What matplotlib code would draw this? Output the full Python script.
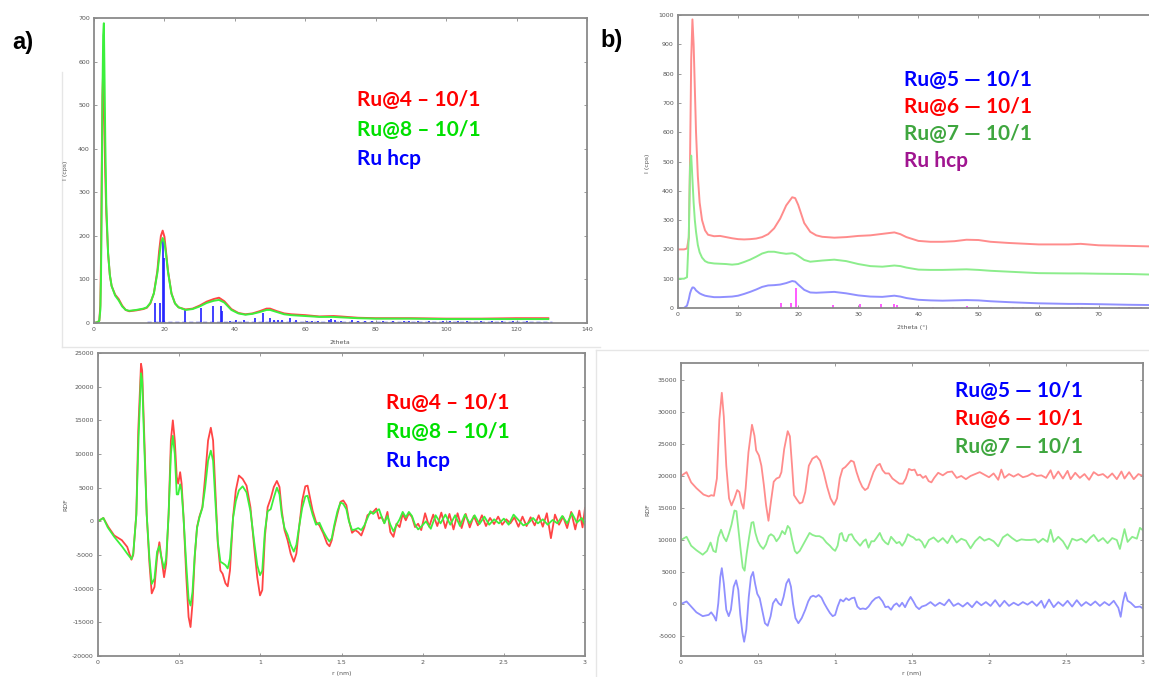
import numpy as np
import matplotlib

matplotlib.use("Agg")
import matplotlib.pyplot as plt
from matplotlib.lines import Line2D

plt.rcParams["axes.unicode_minus"] = False

W, H = 1149, 677

# ---------------------------------------------------------------------------
# data
# ---------------------------------------------------------------------------

# a) XRD, shared 2theta grid
xrd_a_x = [0, 1, 1.5, 1.8, 2.0, 2.2, 2.4, 2.6, 2.8, 3.0, 3.2, 3.5, 4.0, 4.5, 5, 6, 7, 8, 9, 10,
           12, 14, 15, 16, 17, 18, 18.5, 19, 19.5, 20, 20.5, 21, 22, 23, 24, 26, 28, 30, 32, 34,
           35.5, 37, 39, 41, 43, 45, 47, 49, 50, 52, 54, 56, 60, 64, 68, 70, 75, 80, 90, 100,
           110, 120, 129]
xrd_a_ru4 = [0, 2, 5, 40, 150, 350, 520, 578, 520, 420, 340, 250, 160, 110, 85, 65, 55, 40, 30, 27,
             29, 32, 35, 45, 68, 120, 165, 200, 212, 198, 160, 120, 68, 45, 36, 31, 33, 40, 49, 55,
             58, 50, 32, 23, 20, 22, 27, 33, 33, 27, 22, 20, 18, 15, 16, 15, 12, 11, 11, 10,
             10, 11, 11]
xrd_a_ru8 = [0, 2, 5, 30, 110, 300, 520, 660, 688, 560, 420, 270, 160, 110, 85, 63, 52, 38, 30, 28,
             30, 33, 36, 46, 68, 115, 150, 183, 195, 185, 155, 118, 67, 45, 36, 30, 32, 38, 46, 51,
             53, 47, 30, 22, 19, 21, 25, 30, 30, 25, 20, 18, 16, 14, 14, 13, 11, 10, 10, 9,
             9, 9, 9]

# Ru hcp reference reflections (2theta, intensity)
hcp_a_pos = [17.2, 18.8, 19.6, 19.9, 25.8, 30.3, 33.7, 36.0, 36.4, 38.5, 40.2, 42.5, 45.8, 48.1,
             49.9, 51.0, 52.2, 53.5, 55.8, 57.4, 60.5, 62.0, 63.5, 66.6, 67.3, 68.4, 70.0, 73.3,
             75.0, 77.0, 79.0, 82.0, 85.0, 88.0, 89.5, 92.0, 95.0, 99.0, 101.0, 103.5, 106.0,
             110.0, 113.0, 116.0, 119.0, 123.0, 127.0, 129.0]
hcp_a_int = [45, 45, 190, 150, 30, 35, 38, 38, 28, 5, 6, 6, 12, 22,
             12, 7, 8, 6, 12, 8, 4, 5, 4, 8, 10, 7, 5, 7,
             4, 4, 4, 5, 4, 4, 5, 4, 4, 4, 5, 4, 4,
             4, 4, 4, 4, 4, 3, 3]

# b) XRD, shared 2theta grid
xrd_b_x = [0, 1.0, 1.5, 1.8, 2.0, 2.2, 2.4, 2.6, 2.8, 3.0, 3.3, 3.6, 4.0, 4.5, 5, 6, 7, 8, 9, 10,
           11, 12, 13, 14, 15, 16, 17, 18, 19, 19.5, 20, 21, 22, 23, 24, 26, 28, 30, 32, 34,
           36, 37, 38, 40, 42, 44, 46, 48, 50, 52, 55, 60, 65, 67, 70, 75, 79]
xrd_b_ru6 = [200, 200, 203, 240, 500, 850, 985, 900, 750, 600, 450, 360, 300, 265, 250, 245, 246, 242, 238, 235,
             234, 235, 237, 242, 252, 272, 305, 350, 378, 375, 352, 290, 260, 248, 243, 240, 242, 246, 248, 253,
             258, 252, 242, 229, 226, 226, 228, 233, 232, 226, 222, 217, 217, 219, 214, 212, 210]
xrd_b_ru7 = [100, 100, 105, 250, 480, 520, 440, 360, 300, 260, 215, 190, 172, 160, 155, 152, 151, 150, 148, 150,
             157, 165, 175, 186, 192, 192, 188, 185, 187, 184, 178, 164, 158, 160, 162, 165, 160, 150, 143, 141,
             145, 143, 138, 131, 130, 130, 131, 132, 130, 127, 124, 119, 118, 118, 117, 116, 114]
xrd_b_ru5 = [0, 0, 8, 30, 50, 62, 70, 70, 66, 60, 55, 50, 46, 42, 40, 37, 37, 38, 39, 42,
             48, 55, 63, 72, 77, 78, 80, 85, 92, 90, 80, 62, 53, 52, 53, 55, 50, 43, 39, 38,
             42, 39, 34, 28, 26, 25, 26, 27, 26, 23, 20, 16, 14, 14, 13, 11, 10]

hcp_b_pos = [17.2, 18.8, 19.6, 25.8, 30.3, 33.7, 36.0, 36.4, 42.5, 45.8, 48.1, 49.9, 52.0,
             55.8, 57.4, 66.6, 67.3, 73.3, 75.0, 77.0]
hcp_b_int = [18, 18, 68, 10, 12, 14, 14, 10, 3, 4, 7, 4, 3,
             5, 3, 4, 4, 3, 3, 3]

# a) RDF, (r, G) pairs
rdf_a_ru4 = [
    (0, 0), (0.033, 500), (0.064, -850), (0.1, -2100), (0.147, -2800), (0.18, -3800), (0.206, -5700),
    (0.217, -5000), (0.236, 1100), (0.248, 13500), (0.265, 23400), (0.272, 22400), (0.284, 13500),
    (0.3, 1100), (0.317, -6300), (0.331, -10700), (0.348, -9750), (0.364, -5300), (0.378, -3100),
    (0.39, -5300), (0.407, -8300), (0.42, -6300), (0.435, 1100), (0.449, 12000), (0.461, 15000),
    (0.473, 12000), (0.485, 6600), (0.494, 5600), (0.506, 7300), (0.515, 5600), (0.527, 650),
    (0.544, -8300), (0.558, -14200), (0.57, -15700), (0.582, -12200), (0.596, -5300), (0.61, -850),
    (0.624, 650), (0.643, 2100), (0.66, 6600), (0.678, 12000), (0.695, 13900), (0.709, 12000),
    (0.723, 4600), (0.738, -3300), (0.754, -7300), (0.768, -7800), (0.785, -9200), (0.799, -9650),
    (0.813, -7300), (0.832, 650), (0.849, 4600), (0.868, 6800), (0.891, 6300), (0.915, 5300),
    (0.939, 2100), (0.962, -3800), (0.981, -8300), (0.998, -11000), (1.012, -10200), (1.028, -2300),
    (1.045, 2100), (1.064, 3400), (1.083, 5100), (1.102, 6000), (1.118, 5100), (1.132, 1600),
    (1.149, -1300), (1.168, -2800), (1.187, -4800), (1.206, -6000), (1.222, -4800), (1.239, -850),
    (1.258, 3100), (1.277, 5200), (1.291, 5300), (1.305, 3600), (1.322, 1600), (1.343, -100),
    (1.364, -600), (1.388, -1800), (1.411, -3300), (1.426, -3700), (1.44, -2800), (1.456, -850),
    (1.475, 1100), (1.494, 2900), (1.511, 3100), (1.53, 2400), (1.546, 150), (1.565, -1700),
    (1.584, -1300), (1.603, -1600), (1.622, -2100), (1.641, -850), (1.66, 900), (1.678, 1200),
    (1.695, 1400), (1.714, 1900), (1.731, 400), (1.747, 650), (1.764, -250), (1.783, 1400),
    (1.801, -1600), (1.82, -2300), (1.839, -350), (1.858, -850), (1.877, 1100), (1.896, 150),
    (1.915, 1200), (1.934, 650), (1.953, -850), (1.972, -350), (1.991, -1300), (2.015, 1200),
    (2.04, -800), (2.065, 1000), (2.09, -700), (2.115, 1300), (2.14, -1000), (2.165, 1100),
    (2.19, -1200), (2.215, 1200), (2.24, -1000), (2.265, 1100), (2.29, -900), (2.315, 800),
    (2.34, -600), (2.365, 900), (2.39, -700), (2.415, 500), (2.44, -400), (2.465, 700),
    (2.49, -500), (2.515, 300), (2.54, -300), (2.565, 600), (2.59, -800), (2.615, 700),
    (2.64, -700), (2.665, 600), (2.69, -600), (2.715, 900), (2.74, -800), (2.765, 1200),
    (2.79, -2500), (2.815, 1000), (2.84, -500), (2.865, 700), (2.89, -1000), (2.915, 1400),
    (2.94, -1200), (2.965, 1600), (2.985, -900), (3.0, 2000),
]
rdf_a_ru8 = [
    (0, 0), (0.033, 500), (0.06, -900), (0.1, -2300), (0.15, -3800), (0.18, -4800), (0.206, -5600),
    (0.217, -4800), (0.236, 900), (0.25, 12500), (0.265, 22000), (0.272, 21000), (0.284, 12000),
    (0.3, 1000), (0.317, -5500), (0.331, -9300), (0.348, -8500), (0.364, -4500), (0.378, -3700),
    (0.39, -5300), (0.407, -7000), (0.42, -5500), (0.435, 1000), (0.449, 10000), (0.461, 12700),
    (0.473, 10000), (0.485, 4000), (0.494, 4000), (0.506, 5500), (0.515, 4500), (0.527, 500),
    (0.544, -6500), (0.558, -11500), (0.57, -12500), (0.582, -10500), (0.596, -5000), (0.61, -1000),
    (0.624, 500), (0.643, 2000), (0.66, 5000), (0.678, 9000), (0.695, 10500), (0.709, 9000),
    (0.723, 3000), (0.738, -3000), (0.754, -6000), (0.768, -6200), (0.785, -6500), (0.799, -7000),
    (0.813, -5500), (0.832, 500), (0.849, 3000), (0.868, 4600), (0.891, 5200), (0.915, 4300),
    (0.939, 1500), (0.962, -3000), (0.981, -6500), (0.998, -8000), (1.012, -7300), (1.028, -1500),
    (1.045, 1500), (1.064, 1800), (1.083, 3500), (1.102, 5000), (1.118, 4000), (1.132, 1000),
    (1.149, -1000), (1.168, -2000), (1.187, -3500), (1.206, -4500), (1.222, -3500), (1.239, -800),
    (1.258, 2000), (1.277, 3700), (1.291, 3800), (1.305, 2500), (1.322, 1000), (1.343, -500),
    (1.364, -200), (1.388, -1500), (1.411, -2500), (1.426, -3000), (1.44, -2500), (1.456, -500),
    (1.475, 1500), (1.494, 2800), (1.511, 2600), (1.53, 1800), (1.546, 0), (1.565, -1300),
    (1.584, -1200), (1.603, -1000), (1.622, -1300), (1.641, -600), (1.66, 500), (1.678, 1500),
    (1.695, 1100), (1.714, 1500), (1.731, 1800), (1.747, 700), (1.764, -300), (1.783, 800),
    (1.801, -500), (1.82, -1500), (1.839, -500), (1.858, 300), (1.877, 1400), (1.896, 600),
    (1.915, 1400), (1.934, 800), (1.953, -500), (1.972, -1200), (1.991, -800), (2.02, 0),
    (2.05, -1100), (2.08, 900), (2.11, -300), (2.14, 1000), (2.17, -500), (2.2, 900),
    (2.23, -700), (2.26, 1000), (2.29, -300), (2.32, 900), (2.35, -400), (2.38, 700),
    (2.41, -500), (2.44, 300), (2.47, -300), (2.5, 400), (2.53, -500), (2.56, 1000),
    (2.59, 200), (2.62, -600), (2.65, -300), (2.68, 500), (2.71, -300), (2.74, 300),
    (2.77, -500), (2.8, 200), (2.83, -300), (2.86, 800), (2.89, -300), (2.92, 1200),
    (2.95, -200), (2.98, 500), (3.0, -500),
]

# b) RDF, (r, G) pairs, curves already offset by the instrument software
rdf_b_ru6 = [
    (0, 20000), (0.036, 20600), (0.066, 19000), (0.1, 18100), (0.146, 17100), (0.18, 16800),
    (0.196, 17000), (0.214, 16900), (0.233, 19600), (0.249, 28800), (0.265, 33000), (0.278, 29300),
    (0.294, 21600), (0.312, 16500), (0.328, 15400), (0.347, 16500), (0.365, 17800), (0.379, 17500),
    (0.392, 15800), (0.406, 14900), (0.42, 18100), (0.438, 23700), (0.461, 28000), (0.477, 26300),
    (0.488, 24000), (0.506, 23200), (0.522, 21600), (0.538, 18600), (0.552, 15500), (0.568, 13000),
    (0.584, 16000), (0.602, 19100), (0.62, 19600), (0.639, 19800), (0.652, 20600), (0.67, 24200),
    (0.693, 27000), (0.707, 26200), (0.721, 21600), (0.734, 17000), (0.753, 16300), (0.771, 15700),
    (0.789, 15900), (0.807, 17500), (0.83, 21600), (0.853, 22700), (0.88, 23100), (0.903, 22400),
    (0.926, 20600), (0.949, 18300), (0.971, 16500), (0.994, 15500), (1.013, 16500), (1.031, 19600),
    (1.049, 21100), (1.067, 21400), (1.086, 21900), (1.104, 22400), (1.122, 22200), (1.14, 20600),
    (1.158, 19300), (1.177, 18300), (1.195, 17800), (1.213, 18100), (1.231, 19300), (1.25, 20600),
    (1.272, 21600), (1.291, 21900), (1.309, 20900), (1.327, 20400), (1.35, 20400), (1.373, 19600),
    (1.396, 19200), (1.418, 18800), (1.441, 18800), (1.46, 19600), (1.48, 21100), (1.498, 20900),
    (1.517, 21000), (1.535, 20100), (1.553, 20200), (1.571, 19700), (1.589, 20000), (1.608, 19200),
    (1.626, 19000), (1.644, 19700), (1.67, 20500), (1.70, 20100), (1.73, 20600), (1.76, 20700),
    (1.79, 19700), (1.82, 20000), (1.85, 19500), (1.88, 20000), (1.91, 20300), (1.94, 20600),
    (1.97, 20200), (2.0, 19800), (2.03, 20400), (2.06, 19400), (2.08, 21000), (2.1, 19700),
    (2.13, 20300), (2.16, 19900), (2.19, 20300), (2.22, 19800), (2.25, 20000), (2.28, 20400),
    (2.31, 20000), (2.34, 20100), (2.37, 19700), (2.40, 20900), (2.42, 19600), (2.45, 20700),
    (2.48, 19600), (2.51, 20800), (2.53, 19500), (2.56, 20500), (2.59, 19700), (2.62, 20300),
    (2.65, 19400), (2.68, 20600), (2.71, 20100), (2.74, 20300), (2.77, 19700), (2.80, 20400),
    (2.83, 19500), (2.86, 20700), (2.88, 19600), (2.91, 20600), (2.94, 19500), (2.97, 20300),
    (3.0, 20000),
]
rdf_b_ru7 = [
    (0, 10000), (0.036, 10500), (0.066, 9100), (0.1, 8400), (0.141, 7700), (0.169, 8300),
    (0.192, 9600), (0.21, 8300), (0.226, 8100), (0.242, 10400), (0.26, 11600), (0.278, 10400),
    (0.294, 9800), (0.31, 10900), (0.328, 12400), (0.347, 14600), (0.36, 14500), (0.374, 11400),
    (0.388, 8300), (0.401, 5700), (0.413, 5200), (0.426, 7800), (0.442, 10400), (0.458, 12700),
    (0.47, 12800), (0.483, 11100), (0.499, 9800), (0.515, 9100), (0.534, 8600), (0.552, 9300),
    (0.57, 10600), (0.584, 10900), (0.602, 10600), (0.62, 9800), (0.639, 10400), (0.657, 11400),
    (0.675, 10900), (0.693, 12200), (0.707, 11800), (0.721, 10100), (0.739, 8300), (0.753, 7900),
    (0.771, 8300), (0.789, 9100), (0.812, 10100), (0.835, 11100), (0.853, 10800), (0.876, 10600),
    (0.899, 10600), (0.921, 10300), (0.944, 9600), (0.967, 9100), (0.985, 8600), (1.001, 8300),
    (1.017, 9100), (1.031, 10900), (1.044, 11100), (1.058, 10000), (1.074, 9800), (1.09, 10800),
    (1.108, 10900), (1.126, 10100), (1.145, 9600), (1.163, 9100), (1.184, 9800), (1.2, 10100),
    (1.218, 8800), (1.236, 9800), (1.254, 9800), (1.272, 10400), (1.291, 11100), (1.309, 10100),
    (1.327, 9600), (1.345, 9300), (1.364, 10500), (1.382, 10000), (1.4, 9500), (1.418, 9700),
    (1.436, 9100), (1.455, 9800), (1.473, 10900), (1.491, 10600), (1.509, 10400), (1.527, 10000),
    (1.546, 10100), (1.564, 9700), (1.583, 8800), (1.61, 10000), (1.64, 10400), (1.67, 9700),
    (1.70, 10300), (1.73, 9500), (1.76, 10700), (1.79, 9600), (1.82, 10200), (1.85, 9900),
    (1.88, 8700), (1.91, 9800), (1.94, 10500), (1.97, 9900), (2.0, 10200), (2.03, 9800),
    (2.06, 9000), (2.09, 10400), (2.12, 10900), (2.15, 10300), (2.18, 9800), (2.21, 10100),
    (2.24, 10000), (2.27, 10000), (2.30, 10100), (2.32, 9600), (2.35, 10200), (2.38, 9700),
    (2.40, 11600), (2.42, 9700), (2.45, 10500), (2.48, 9800), (2.51, 8600), (2.54, 10200),
    (2.57, 9900), (2.60, 10200), (2.63, 9600), (2.66, 10400), (2.68, 10800), (2.71, 9800),
    (2.74, 10300), (2.77, 9500), (2.80, 10300), (2.83, 10000), (2.85, 8600), (2.88, 11700),
    (2.90, 9700), (2.93, 10500), (2.96, 10200), (2.98, 11900), (3.0, 11500),
]
rdf_b_ru5 = [
    (0, 0), (0.036, 400), (0.066, -400), (0.1, -1300), (0.141, -1900), (0.18, -1700),
    (0.196, -1300), (0.214, -1900), (0.228, -2600), (0.242, 100), (0.255, 4200), (0.265, 5600),
    (0.278, 3200), (0.294, -900), (0.31, -1900), (0.324, -900), (0.342, 2700), (0.358, 3700),
    (0.372, 2200), (0.385, -1700), (0.399, -4500), (0.41, -5900), (0.424, -4000), (0.44, 1100),
    (0.454, 4200), (0.468, 5000), (0.481, 3200), (0.495, 1600), (0.511, 900), (0.527, -900),
    (0.545, -3000), (0.563, -3400), (0.582, -1900), (0.597, 100), (0.616, 800), (0.634, 100),
    (0.65, -200), (0.666, 1100), (0.684, 3200), (0.7, 3900), (0.714, 2700), (0.727, 100),
    (0.743, -2200), (0.762, -3000), (0.784, -2200), (0.807, -900), (0.826, 400), (0.842, 1100),
    (0.858, 1300), (0.876, 1100), (0.894, 1400), (0.912, 1000), (0.93, 100), (0.949, -700),
    (0.967, -1400), (0.985, -1900), (1.001, -1700), (1.017, -400), (1.035, 700), (1.054, 400),
    (1.072, 900), (1.09, 600), (1.108, 900), (1.126, 1000), (1.145, -400), (1.163, -800),
    (1.181, -700), (1.2, -800), (1.218, -400), (1.241, 400), (1.263, 900), (1.286, 1100),
    (1.309, 400), (1.327, -500), (1.345, -400), (1.364, -900), (1.382, -200), (1.4, 100),
    (1.418, -400), (1.436, 200), (1.455, -500), (1.473, 400), (1.491, 1100), (1.509, 400),
    (1.527, -400), (1.546, -800), (1.564, -400), (1.59, -200), (1.62, 300), (1.65, -300),
    (1.68, 200), (1.71, -200), (1.74, 700), (1.77, -300), (1.80, 100), (1.83, -400),
    (1.86, 200), (1.89, -500), (1.92, 400), (1.95, -200), (1.98, 300), (2.01, -300),
    (2.04, 600), (2.07, -400), (2.10, 500), (2.13, -300), (2.16, 200), (2.19, -200),
    (2.22, 300), (2.25, -100), (2.28, 400), (2.31, -300), (2.34, 500), (2.36, -600),
    (2.39, 700), (2.42, -500), (2.45, 300), (2.48, -300), (2.51, 500), (2.54, -400),
    (2.57, 600), (2.60, -300), (2.63, 300), (2.66, -200), (2.69, 400), (2.72, -300),
    (2.75, 300), (2.78, -200), (2.81, 500), (2.84, -600), (2.855, -2000), (2.87, 300),
    (2.885, 1800), (2.9, 500), (2.92, 200), (2.95, -500), (2.98, -400), (3.0, -700),
]

labels_a = ["Ru@4 \u2013 10/1", "Ru@8 \u2013 10/1", "Ru hcp"]
labels_b = ["Ru@5 \u2014 10/1", "Ru@6 \u2014 10/1", "Ru@7 \u2014 10/1", "Ru hcp"]

# ---------------------------------------------------------------------------
# styling helpers
# ---------------------------------------------------------------------------

RED_A, GREEN_A, BLUE_A = "#ff4545", "#3cf03c", "#2020ff"
RED_B, GREEN_B, BLUE_B, MAG_B = "#ff8c8c", "#8ced8c", "#9090ff", "#ff40ff"
TXT_RED, TXT_GREEN_A, TXT_GREEN_B = "#ff0000", "#00e000", "#3fa63f"
TXT_BLUE, TXT_MAG = "#0000ff", "#a01590"
GREY = "#8a8a8a"


def px_rect(left, top, right, bottom):
    return [left / W, 1 - bottom / H, (right - left) / W, (bottom - top) / H]


def style_axes(ax):
    for s in ax.spines.values():
        s.set_color(GREY)
        s.set_linewidth(1.3)
    ax.tick_params(direction="in", length=2.5, width=0.6, color=GREY,
                   labelsize=4.5, labelcolor="#555555", pad=3,
                   top=True, right=True)


def fig_text(x, y, s, color, **kw):
    fig.text(x / W, 1 - y / H, s, color=color, ha="left", va="center",
             fontsize=15, fontweight="bold", family=["Lato", "DejaVu Sans"], **kw)


def small_label(x, y, s, rot=0):
    fig.text(x / W, 1 - y / H, s, ha="center", va="center", fontsize=4.5,
             color="#555555", rotation=rot)


def faint_line(xs, ys):
    fig.add_artist(Line2D([x / W for x in xs], [1 - y / H for y in ys],
                          color="#e6e6e6", lw=1.0))


fig = plt.figure(figsize=(W / 100, H / 100), dpi=100)

# faint borders of the pasted screenshots
faint_line([62, 62], [72, 347])
faint_line([62, 600], [347, 347])
faint_line([596, 596], [350, 677])
faint_line([596, 1149], [350, 350])

# a) XRD
ax1 = fig.add_axes(px_rect(94, 18, 587, 323))
ax1.vlines(hcp_a_pos, 0, hcp_a_int, color=BLUE_A, lw=1.2)
ax1.hlines(1.5, 15, 130, color=BLUE_A, lw=1.0, linestyles=(0, (3, 2)))
ax1.plot(xrd_a_x, xrd_a_ru4, color=RED_A, lw=1.4)
ax1.plot(xrd_a_x, xrd_a_ru8, color=GREEN_A, lw=1.4)
ax1.set_xlim(0, 140)
ax1.set_ylim(0, 700)
ax1.set_xticks(np.arange(0, 141, 20))
ax1.set_yticks(np.arange(0, 701, 100))
style_axes(ax1)

# a) RDF
ax2 = fig.add_axes(px_rect(98, 353, 585, 656))
r, g = np.array(rdf_a_ru4).T
ax2.plot(r, g, color=RED_A, lw=1.3)
r, g = np.array(rdf_a_ru8).T
ax2.plot(r, g, color=GREEN_A, lw=1.3)
ax2.set_xlim(0, 3)
ax2.set_ylim(-20000, 25000)
ax2.set_xticks([0, 0.5, 1, 1.5, 2, 2.5, 3])
ax2.set_xticklabels(["0", "0.5", "1", "1.5", "2", "2.5", "3"])
ax2.set_yticks(np.arange(-20000, 25001, 5000))
style_axes(ax2)

# b) XRD
ax3 = fig.add_axes(px_rect(678, 15, 678 + 79 * 6.01, 308))
ax3.vlines(hcp_b_pos, 0, hcp_b_int, color=MAG_B, lw=1.2)
ax3.hlines(1.5, 15, 79, color=MAG_B, lw=0.8, linestyles=(0, (3, 3)))
ax3.plot(xrd_b_x, xrd_b_ru6, color=RED_B, lw=1.4)
ax3.plot(xrd_b_x, xrd_b_ru7, color=GREEN_B, lw=1.4)
ax3.plot(xrd_b_x, xrd_b_ru5, color=BLUE_B, lw=1.4)
ax3.set_xlim(0, 79)
ax3.set_ylim(0, 1000)
ax3.set_xticks(np.arange(0, 71, 10))
ax3.set_yticks(np.arange(0, 1001, 100))
style_axes(ax3)

# b) RDF
ax4 = fig.add_axes(px_rect(681, 363, 1143, 656))
for data, col in [(rdf_b_ru6, RED_B), (rdf_b_ru7, GREEN_B), (rdf_b_ru5, BLUE_B)]:
    r, g = np.array(data).T
    ax4.plot(r, g, color=col, lw=1.3)
ax4.set_xlim(0, 3)
ax4.set_ylim(-8125, 37650)
ax4.set_xticks([0, 0.5, 1, 1.5, 2, 2.5, 3])
ax4.set_xticklabels(["0", "0.5", "1", "1.5", "2", "2.5", "3"])
ax4.set_yticks(np.arange(-5000, 35001, 5000))
style_axes(ax4)

# axis titles (tiny, as in the instrument export)
small_label(340, 343, "2theta")
small_label(66, 170, "I (cps)", 90)
small_label(66, 505, "RDF", 90)
small_label(342, 673, "r (nm)")
small_label(912, 327, "2theta (\u00b0)")
small_label(648, 163, "I (cps)", 90)
small_label(648, 510, "RDF", 90)
small_label(912, 673, "r (nm)")

# panel letters
fig.text(12 / W, 1 - 42 / H, "a)", fontsize=17, fontweight="bold", va="center", family="Liberation Sans")
fig.text(600 / W, 1 - 40 / H, "b)", fontsize=17, fontweight="bold", va="center", family="Liberation Sans")

# coloured keys
for (y, s, c) in zip([100, 130, 159], labels_a, [TXT_RED, TXT_GREEN_A, TXT_BLUE]):
    fig_text(357, y, s, c)
for (y, s, c) in zip([403, 432, 461], labels_a, [TXT_RED, TXT_GREEN_A, TXT_BLUE]):
    fig_text(386, y, s, c)
for (y, s, c) in zip([80, 107, 134, 161], labels_b, [TXT_BLUE, TXT_RED, TXT_GREEN_B, TXT_MAG]):
    fig_text(904, y, s, c)
for (y, s, c) in zip([391, 419, 447], labels_b[:3], [TXT_BLUE, TXT_RED, TXT_GREEN_B]):
    fig_text(955, y, s, c)

fig.savefig("out.png", dpi=100)
